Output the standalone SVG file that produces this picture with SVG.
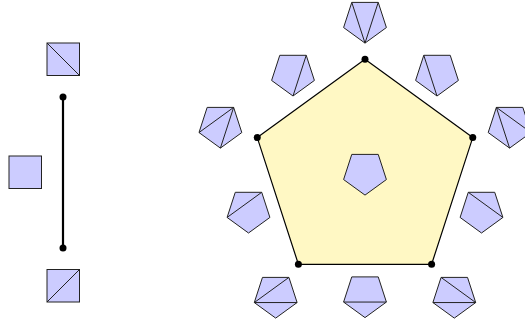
<svg xmlns="http://www.w3.org/2000/svg" xmlns:xlink="http://www.w3.org/1999/xlink" width="525" height="322" viewBox="0 0 525 322">
<style>
.sm{fill:#ccccff;stroke:#222;stroke-width:1}
.dg{stroke:#222;stroke-width:1;fill:none}
.big{fill:#fff8c4;stroke:#000;stroke-width:1.2}
.dot{fill:#000}
.edge{stroke:#000;stroke-width:2.2}
</style>
<defs>
<polygon id="p" points="0,22.5 21.4,6.95 13.23,-18.2 -13.23,-18.2 -21.4,6.95"/>
</defs>
<rect width="525" height="322" fill="#fff"/>
<g id="connectors">
<line class="edge" x1="63" y1="97" x2="63" y2="248"/>
</g>
<g id="seg-top"><rect class="sm" x="47" y="43" width="32.5" height="32.5"/><line class="dg" x1="47" y1="43" x2="79.5" y2="75.5"/></g>
<g id="seg-mid"><rect class="sm" x="9" y="156" width="32.5" height="32.5"/></g>
<g id="seg-bot"><rect class="sm" x="47" y="269.5" width="32.5" height="32.5"/><line class="dg" x1="47" y1="302" x2="79.5" y2="269.5"/></g>
<g id="seg-ends"><circle class="dot" cx="63" cy="97" r="3.5"/><circle class="dot" cx="63" cy="248" r="3.5"/></g>
<g id="big-pentagon">
<polygon class="big" points="365,59.3 472.75,137.6 431.6,264.3 298.4,264.3 257.25,137.6"/>
<circle class="dot" cx="365" cy="59.3" r="3.5"/>
<circle class="dot" cx="472.75" cy="137.6" r="3.5"/>
<circle class="dot" cx="431.6" cy="264.3" r="3.5"/>
<circle class="dot" cx="298.4" cy="264.3" r="3.5"/>
<circle class="dot" cx="257.25" cy="137.6" r="3.5"/>
</g>
<g id="center" transform="translate(365,172.6)"><use href="#p" class="sm"/></g>
<g id="v-top" transform="translate(365,20.6)"><use href="#p" class="sm"/><path class="dg" d="M-13.23,-18.2L0,22.5L13.23,-18.2"/></g>
<g id="v-right" transform="translate(509.6,125.6)"><use href="#p" class="sm"/><path class="dg" d="M21.4,6.95L-13.23,-18.2L0,22.5"/></g>
<g id="v-botright" transform="translate(454.3,295.6)"><use href="#p" class="sm"/><path class="dg" d="M-13.23,-18.2L21.4,6.95L-21.4,6.95"/></g>
<g id="v-botleft" transform="translate(275.7,295.6)"><use href="#p" class="sm"/><path class="dg" d="M13.23,-18.2L-21.4,6.95L21.4,6.95"/></g>
<g id="v-left" transform="translate(220.4,125.6)"><use href="#p" class="sm"/><path class="dg" d="M-21.4,6.95L13.23,-18.2L0,22.5"/></g>
<g id="e-topright" transform="translate(437,73.5)"><use href="#p" class="sm"/><path class="dg" d="M-13.23,-18.2L0,22.5"/></g>
<g id="e-right" transform="translate(481.5,210.5)"><use href="#p" class="sm"/><path class="dg" d="M-13.23,-18.2L21.4,6.95"/></g>
<g id="e-bottom" transform="translate(365,295.1)"><use href="#p" class="sm"/><path class="dg" d="M-21.4,6.95L21.4,6.95"/></g>
<g id="e-left" transform="translate(248.5,210.5)"><use href="#p" class="sm"/><path class="dg" d="M13.23,-18.2L-21.4,6.95"/></g>
<g id="e-topleft" transform="translate(293,73.5)"><use href="#p" class="sm"/><path class="dg" d="M13.23,-18.2L0,22.5"/></g>
</svg>
